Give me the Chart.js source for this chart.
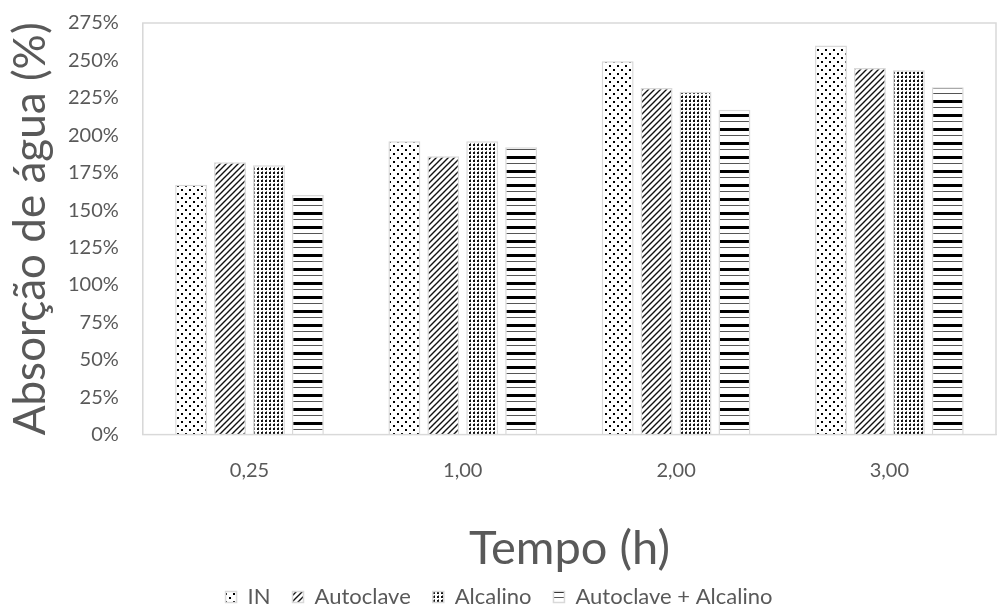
<!DOCTYPE html>
<html>
<head>
<meta charset="utf-8">
<script src="https://cdn.jsdelivr.net/npm/chart.js@4/dist/chart.umd.min.js"></script>
<style>
  body { margin: 0; background: #fff; }
  canvas { display: block; }
</style>
</head>
<body>
<canvas id="chart" width="998" height="608"></canvas>
<script>
const categories = ['0,25', '1,00', '2,00', '3,00'];
const seriesNames = ['IN', 'Autoclave', 'Alcalino', 'Autoclave + Alcalino'];
const inValues = [167, 196, 249.5, 260];
const autoclaveValues = [182, 186, 231.5, 245];
const alcalinoValues = [180, 196, 229, 243.5];
const autoAlcValues = [160, 192, 217, 232];
const yTicks = [0, 25, 50, 75, 100, 125, 150, 175, 200, 225, 250, 275];

const FONT = 'Lato, "Open Sans", sans-serif';
const GREY = '#595959';

function makePattern(w, h, draw) {
    const c = document.createElement('canvas');
    c.width = w; c.height = h;
    const g = c.getContext('2d');
    g.fillStyle = '#fff';
    g.fillRect(0, 0, w, h);
    draw(g);
    return document.getElementById('chart').getContext('2d').createPattern(c, 'repeat');
}

// sparse staggered dots
const dotsSparse = makePattern(8, 8, g => {
    g.fillStyle = '#000';
    g.fillRect(1, 1, 2, 2);
    g.fillRect(5, 5, 2, 2);
});
// diagonal stripes
const diagonal = makePattern(6, 6, g => {
    g.strokeStyle = '#111';
    g.lineWidth = 1.4;
    g.beginPath();
    g.moveTo(-1, 7); g.lineTo(7, -1);
    g.moveTo(-4, 4); g.lineTo(4, -4);
    g.moveTo(2, 10); g.lineTo(10, 2);
    g.stroke();
});
// dense dot grid
const dotsDense = makePattern(4, 4, g => {
    g.fillStyle = '#111';
    g.fillRect(1, 0, 2, 2);
    g.fillStyle = '#777';
    g.fillRect(2, 3, 1, 1);
});
// horizontal lines, thick and thin
const horizontal = makePattern(8, 14, g => {
    g.fillStyle = '#000';
    g.fillRect(0, 2, 8, 3);
    g.fillStyle = '#555';
    g.fillRect(0, 9, 8, 1);
});

const patterns = [dotsSparse, diagonal, dotsDense, horizontal];
const values = [inValues, autoclaveValues, alcalinoValues, autoAlcValues];

const plotBorder = {
    id: 'plotBorder',
    afterDraw(chart) {
        const a = chart.chartArea, ctx = chart.ctx;
        ctx.save();
        ctx.strokeStyle = '#d9d9d9';
        ctx.lineWidth = 1.5;
        ctx.strokeRect(a.left, a.top, a.right - a.left, a.bottom - a.top);
        ctx.restore();
    }
};

new Chart(document.getElementById('chart'), {
    type: 'bar',
    data: {
        labels: categories,
        datasets: seriesNames.map((name, i) => ({
            label: name,
            data: values[i],
            backgroundColor: patterns[i],
            borderColor: '#d9d9d9',
            borderWidth: 1.5,
            categoryPercentage: 0.73,
            barPercentage: 0.82
        }))
    },
    options: {
        responsive: false,
        animation: false,
        layout: { padding: { left: 2, right: 2, top: 23, bottom: -10 } },
        plugins: {
            legend: {
                position: 'bottom',
                labels: {
                    font: { family: FONT, size: 22 },
                    color: GREY,
                    boxWidth: 11,
                    boxHeight: 11,
                    padding: 22
                }
            },
            tooltip: { enabled: false }
        },
        scales: {
            x: {
                grid: { display: false, drawTicks: false },
                border: { color: '#d9d9d9' },
                ticks: { font: { family: FONT, size: 20 }, color: GREY, padding: 24 },
                title: {
                    display: true, text: 'Tempo (h)',
                    font: { family: FONT, size: 47 }, color: GREY,
                    padding: { top: 14, bottom: -13 }
                }
            },
            y: {
                min: 0, max: 275,
                grid: { display: false, drawTicks: false },
                border: { color: '#d9d9d9' },
                afterBuildTicks: axis => { axis.ticks = yTicks.map(v => ({ value: v })); },
                // tick padding should not push the plot top down
                afterFit: axis => { axis.paddingTop = 12; axis.paddingBottom = 12; },
                ticks: {
                    font: { family: FONT, size: 20 }, color: GREY, padding: 24,
                    callback: v => v + '%'
                },
                title: {
                    display: true, text: 'Absorção de água (%)',
                    font: { family: FONT, size: 44, lineHeight: 1.0 }, color: GREY,
                    padding: { top: 7, bottom: -9 }
                }
            }
        }
    },
    plugins: [plotBorder]
});
</script>
</body>
</html>
